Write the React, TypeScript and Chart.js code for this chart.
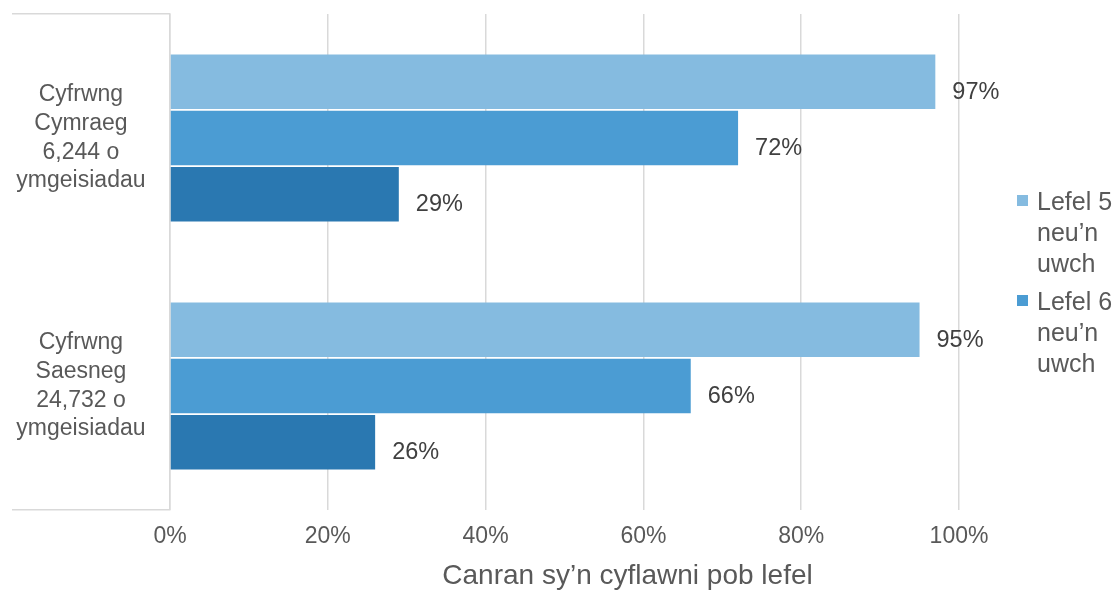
import React, { useEffect, useRef } from "react";
import { Chart, registerables } from "chart.js";

Chart.register(...registerables);

const FONT = "'Liberation Sans', Arial, sans-serif";

const categories: string[][] = [
  ["Cyfrwng", "Cymraeg", "6,244 o", "ymgeisiadau"],
  ["Cyfrwng", "Saesneg", "24,732 o", "ymgeisiadau"],
];

const seriesNames = ["Lefel 5 neu’n uwch", "Lefel 6 neu’n uwch", "Lefel 7 neu’n uwch"];
const legendLines: string[][] = [
  ["Lefel 5", "neu’n", "uwch"],
  ["Lefel 6", "neu’n", "uwch"],
];

const level5 = [97, 95];
const level6 = [72, 66];
const level7 = [29, 26];

const seriesColors = ["#85BBE0", "#4B9CD3", "#2A78B1"];

const xMin = 0;
const xMax = 100;
const xStep = 20;
const xTitle = "Canran sy’n cyflawni pob lefel";

const valueLabels = {
  id: "valueLabels",
  afterDatasetsDraw(chart: any) {
    const ctx = chart.ctx;
    ctx.save();
    ctx.font = `23.5px ${FONT}`;
    ctx.fillStyle = "#404040";
    ctx.textAlign = "left";
    ctx.textBaseline = "alphabetic";
    chart.data.datasets.forEach((ds: any, i: number) => {
      const meta = chart.getDatasetMeta(i);
      meta.data.forEach((el: any, j: number) => {
        ctx.fillText(`${ds.data[j]}%`, el.x + 17, el.y + 17);
      });
    });
    ctx.restore();
  },
};

const sideLegend = {
  id: "sideLegend",
  afterDraw(chart: any) {
    const { ctx, chartArea } = chart;
    ctx.save();
    const x0 = chartArea.right + 58;
    let base = chartArea.top + 196;
    ctx.font = `25px ${FONT}`;
    ctx.textAlign = "left";
    ctx.textBaseline = "alphabetic";
    legendLines.forEach((lines, i) => {
      ctx.fillStyle = chart.data.datasets[i].backgroundColor;
      ctx.fillRect(x0, base - 15, 11, 11);
      ctx.fillStyle = "#595959";
      lines.forEach((t, k) => ctx.fillText(t, x0 + 20, base + k * 31));
      base += 100;
    });
    ctx.restore();
  },
};

const axisTitle = {
  id: "axisTitle",
  afterDraw(chart: any) {
    const { ctx, chartArea } = chart;
    ctx.save();
    ctx.font = `28px ${FONT}`;
    ctx.fillStyle = "#595959";
    ctx.textAlign = "center";
    ctx.textBaseline = "alphabetic";
    ctx.fillText(xTitle, (chartArea.left + chartArea.right) / 2 + 63, chartArea.bottom + 74);
    ctx.restore();
  },
};

export default function App() {
  const canvasRef = useRef<HTMLCanvasElement | null>(null);

  useEffect(() => {
    document.body.style.margin = "0";
    const canvas = canvasRef.current;
    if (!canvas) return;
    const values = [level5, level6, level7];
    const chart = new Chart(canvas, {
      type: "bar",
      data: {
        labels: categories,
        datasets: values.map((d, i) => ({
          label: seriesNames[i],
          data: d,
          backgroundColor: seriesColors[i],
          borderWidth: 0,
          barPercentage: 0.97,
          categoryPercentage: 0.68,
        })),
      },
      options: {
        indexAxis: "y",
        responsive: false,
        animation: false,
        devicePixelRatio: 1,
        layout: { padding: { left: 12, top: 14, right: 159, bottom: 0 } },
        plugins: {
          legend: { display: false },
          tooltip: { enabled: false },
        },
        scales: {
          x: {
            type: "linear",
            min: xMin,
            max: xMax,
            ticks: {
              stepSize: xStep,
              callback: (v: any) => `${v}%`,
              font: { size: 23, family: FONT },
              color: "#595959",
              padding: 13,
            },
            grid: { color: "#D9D9D9", lineWidth: 1.5, drawTicks: false },
            border: { display: false },
            title: { display: false },
            afterFit: (s: any) => {
              s.height = 80;
            },
          },
          y: {
            type: "category",
            grid: {
              display: true,
              drawOnChartArea: false,
              drawTicks: true,
              tickLength: 158,
              offset: true,
              lineWidth: 1.5,
              color: (c: any) => (c.index === 1 ? "rgba(0,0,0,0)" : "#D9D9D9"),
            },
            border: { display: true, color: "#D9D9D9", width: 1.5 },
            ticks: {
              font: { size: 23, family: FONT, lineHeight: 1.25 },
              color: "#595959",
              crossAlign: "center",
              padding: -133.5,
            },
            afterFit: (s: any) => {
              s.width = 158;
              s.paddingTop = 0;
              s.paddingBottom = 0;
            },
          },
        },
      },
      plugins: [valueLabels, sideLegend, axisTitle],
    } as any);
    return () => chart.destroy();
  }, []);

  return (
    <div style={{ width: 1118, height: 590, background: "#fff" }}>
      <canvas ref={canvasRef} width={1118} height={590} />
    </div>
  );
}
